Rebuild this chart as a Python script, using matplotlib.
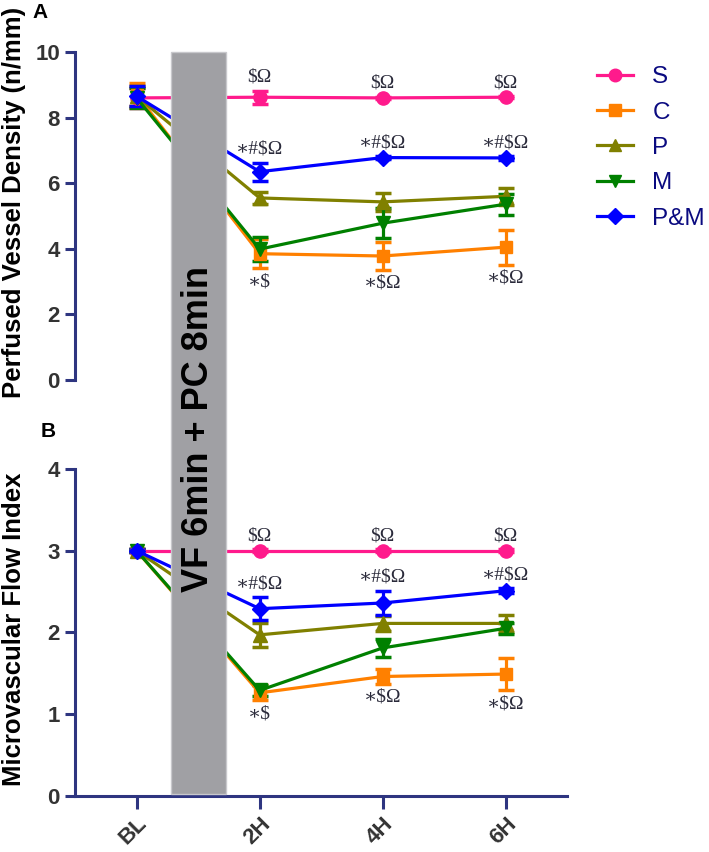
import matplotlib
matplotlib.use("Agg")
import matplotlib.pyplot as plt
from matplotlib.patches import Rectangle
from matplotlib.transforms import blended_transform_factory
from matplotlib.lines import Line2D

plt.rcParams["font.family"] = ["Liberation Sans", "DejaVu Sans"]

timepoints = ["BL", "2H", "4H", "6H"]
groups = ["S", "C", "P", "M", "P&M"]

pvd_mean = {
    "S":   [8.60, 8.62, 8.60, 8.62],
    "C":   [8.70, 3.85, 3.78, 4.05],
    "P":   [8.65, 5.55, 5.43, 5.60],
    "M":   [8.60, 3.99, 4.78, 5.36],
    "P&M": [8.65, 6.35, 6.78, 6.77],
}
pvd_err = {
    "S":   [0.30, 0.20, 0.03, 0.03],
    "C":   [0.35, 0.45, 0.42, 0.53],
    "P":   [0.30, 0.17, 0.28, 0.25],
    "M":   [0.30, 0.36, 0.45, 0.32],
    "P&M": [0.30, 0.27, 0.05, 0.05],
}
mfi_mean = {
    "S":   [3.00, 3.00, 3.00, 3.00],
    "C":   [3.00, 1.26, 1.46, 1.49],
    "P":   [3.00, 1.97, 2.11, 2.11],
    "M":   [3.00, 1.29, 1.81, 2.05],
    "P&M": [3.00, 2.29, 2.36, 2.51],
}
mfi_err = {
    "S":   [0.02, 0.02, 0.02, 0.02],
    "C":   [0.02, 0.09, 0.09, 0.20],
    "P":   [0.02, 0.15, 0.09, 0.10],
    "M":   [0.02, 0.07, 0.11, 0.07],
    "P&M": [0.02, 0.14, 0.15, 0.03],
}

colors = {"S": "#ff1a8c", "C": "#ff8000", "P": "#808000", "M": "#008000", "P&M": "#0000ff"}
markers = {"S": "o", "C": "s", "P": "^", "M": "v", "P&M": "D"}
msizes = {"S": 9.5, "C": 9, "P": 9.5, "M": 9.5, "P&M": 8.5}

STAR = "\u2217"
# annotations: (group, timepoint index, text, above?)
annots = [
    ("S", 1, "$\u03a9", True), ("S", 2, "$\u03a9", True), ("S", 3, "$\u03a9", True),
    ("P&M", 1, STAR + "#$\u03a9", True), ("P&M", 2, STAR + "#$\u03a9", True),
    ("P&M", 3, STAR + "#$\u03a9", True),
    ("C", 1, STAR + "$", False), ("C", 2, STAR + "$\u03a9", False),
    ("C", 3, STAR + "$\u03a9", False),
]

spine_c = "#2e3580"
tick_c = "#333333"

fig = plt.figure(figsize=(7.09, 8.52), dpi=100)
ax1 = fig.add_axes([0.106, 0.554, 0.694, 0.385])
ax2 = fig.add_axes([0.106, 0.066, 0.694, 0.3835])

x = list(range(len(timepoints)))

def draw(ax, means, errs, ymax, step, ylabel, offs):
    for g in groups:
        ax.errorbar(x, means[g], yerr=errs[g], color=colors[g], marker=markers[g],
                    markersize=msizes[g], lw=2.3, elinewidth=2.3, capsize=6,
                    capthick=2.5, clip_on=False, zorder=3)
    for g, i, t, above in annots:
        m = means[g][i]
        e = errs[g][i]
        if above:
            y = m + e + offs
            va = "bottom"
        else:
            y = m - e - offs
            va = "top"
        ax.text(x[i], y, t, ha="center", va=va,
                family=["Liberation Serif", "DejaVu Serif"],
                fontsize=14, color="#2a2a3a")
    ax.set_xlim(-0.5, 3.5)
    ax.set_ylim(0, ymax)
    ax.set_yticks([v * step for v in range(int(ymax / step) + 1)])
    for s in ["top", "right"]:
        ax.spines[s].set_visible(False)
    for s in ["left", "bottom"]:
        ax.spines[s].set_color(spine_c)
        ax.spines[s].set_linewidth(2.2)
    ax.tick_params(axis="y", colors=spine_c, width=2.2, length=7, labelcolor=tick_c,
                   labelsize=16, pad=4)
    for lab in ax.get_yticklabels():
        lab.set_fontweight("bold")
    ax.set_ylabel(ylabel, fontsize=18.5, fontweight="bold", color="black")

draw(ax1, pvd_mean, pvd_err, 10, 2, "Perfused Vessel Density (n/mm)", 0.15)
draw(ax2, mfi_mean, mfi_err, 4, 1, "Microvascular Flow Index", 0.06)

ax1.spines["bottom"].set_visible(False)
ax1.set_xticks([])
ax2.set_xticks(x)
ax2.set_xticklabels(timepoints, rotation=45, ha="right", rotation_mode="anchor",
                    fontsize=16, fontweight="bold", color=tick_c)
ax2.tick_params(axis="x", colors=spine_c, width=2.2, length=9, labelcolor=tick_c)

ax1.yaxis.set_label_coords(-0.100, 0.54)
ax2.yaxis.set_label_coords(-0.100, 0.51)

# gray intervention bar spanning both panels
tr = blended_transform_factory(ax2.transData, fig.transFigure)
bar_x0, bar_x1 = 0.28, 0.73
rect = Rectangle((bar_x0, 0.0675), bar_x1 - bar_x0, 0.9385 - 0.0675, transform=tr,
                 facecolor="#a0a0a4", edgecolor="#c8c8cc", lw=1, zorder=5)
fig.patches.append(rect)
fig.text((bar_x0 + bar_x1) / 2, 0.497, "VF 6min + PC 8min", transform=tr,
         rotation=90, ha="center", va="center", fontsize=26, fontweight="bold",
         color="black", zorder=6)

# panel labels
fig.text(0.056, 0.985, "A", fontsize=15, fontweight="bold", va="center", ha="center")
fig.text(0.068, 0.494, "B", fontsize=15, fontweight="bold", va="center", ha="center")

# legend
handles = [Line2D([0], [0], color=colors[g], marker=markers[g], markersize=msizes[g] * 0.95,
                  lw=2.3) for g in groups]
fig.legend(handles, groups, loc="upper left", bbox_to_anchor=(0.811, 0.948),
           frameon=False, fontsize=17.5, labelcolor="#0a0a80", handlelength=1.48,
           labelspacing=0.55, handletextpad=0.8)

fig.savefig("out.png", dpi=100)
